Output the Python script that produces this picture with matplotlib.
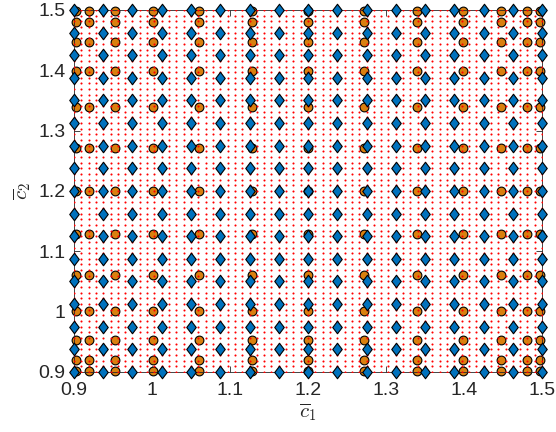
import matplotlib.pyplot as plt
import numpy as np
from matplotlib.path import Path

plt.rcParams['font.family'] = ['Liberation Sans', 'DejaVu Sans']
plt.rcParams['mathtext.fontset'] = 'cm'

# axis range of the parameter box
c_min, c_max = 0.9, 1.5

# fine evaluation grid (red dots): 65 x 65 points
fine_n = 65
# coarse training grid (blue diamonds): 17 x 17 points
coarse_n = 17
# collocation nodes (orange circles)
nodes = [0.9022, 0.9195, 0.9530, 1.0008, 1.0606, 1.1282, 1.2000,
         1.2718, 1.3394, 1.3992, 1.4470, 1.4805, 1.4978]

fine = np.linspace(c_min, c_max, fine_n)
coarse = np.linspace(c_min, c_max, coarse_n)

fx, fy = np.meshgrid(fine, fine)
cx, cy = np.meshgrid(coarse, coarse)
nx, ny = np.meshgrid(nodes, nodes)

diamond = Path([(0, 1), (0.76, 0), (0, -1), (-0.76, 0), (0, 1)],
               [Path.MOVETO, Path.LINETO, Path.LINETO, Path.LINETO, Path.CLOSEPOLY])

fig = plt.figure(figsize=(5.56, 4.32), dpi=100)
ax = fig.add_axes([0.133, 0.139, 0.842, 0.838])

ax.plot(nx.ravel(), ny.ravel(), 'o', ms=6.3, mfc='#D9800F', mec='k', mew=0.8,
        clip_on=False, zorder=2)
ax.plot(fx.ravel(), fy.ravel(), '.', ms=3.0, color='red', mew=0, zorder=3)
ax.plot(cx.ravel(), cy.ravel(), ls='none', marker=diamond, ms=9.0, mfc='#0072BD',
        mec='k', mew=0.8, clip_on=False, zorder=4)

ax.set_xlim(c_min, c_max)
ax.set_ylim(c_min, c_max)
ticks = [0.9, 1.0, 1.1, 1.2, 1.3, 1.4, 1.5]
labels = ['0.9', '1', '1.1', '1.2', '1.3', '1.4', '1.5']
ax.set_xticks(ticks, labels)
ax.set_yticks(ticks, labels)
ax.tick_params(direction='in', length=4, width=0.6, colors='#262626',
               labelsize=14, top=True, right=True)
ax.tick_params(axis='x', pad=7)
ax.tick_params(axis='y', pad=6)
for s in ax.spines.values():
    s.set_color('#262626')
    s.set_linewidth(0.6)

ax.set_xlabel(r'$\overline{c}_1$', fontsize=15, color='#262626', labelpad=2)
ax.set_ylabel(r'$\overline{c}_2$', fontsize=15, color='#262626', labelpad=4)

fig.savefig('out.png', dpi=100)
